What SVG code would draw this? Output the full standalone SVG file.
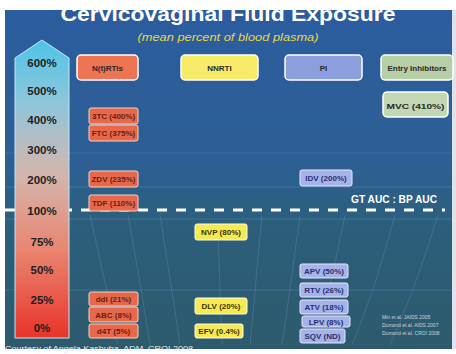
<svg xmlns="http://www.w3.org/2000/svg" width="456" height="354" viewBox="0 0 456 354">
<defs>
<linearGradient id="bg" x1="0" y1="0" x2="0" y2="1">
<stop offset="0" stop-color="#2b5c9f"/>
<stop offset="0.45" stop-color="#2d5f94"/>
<stop offset="0.62" stop-color="#2c5f7d"/>
<stop offset="1" stop-color="#2d5a6c"/>
</linearGradient>
<linearGradient id="arrowg" x1="0" y1="40" x2="0" y2="338" gradientUnits="userSpaceOnUse">
<stop offset="0" stop-color="#4fc3e6"/>
<stop offset="0.2" stop-color="#8cc6dc"/>
<stop offset="0.45" stop-color="#d4b6ae"/>
<stop offset="0.7" stop-color="#e98671"/>
<stop offset="1" stop-color="#e8342a"/>
</linearGradient>
<style>
.ax{font-family:"Liberation Sans",Arial,sans-serif;font-weight:bold;font-size:11.5px;fill:#1e1e1e;text-anchor:middle}
.lb{font-family:"Liberation Sans",Arial,sans-serif;font-weight:bold;font-size:8px;text-anchor:middle}
.hd{font-family:"Liberation Sans",Arial,sans-serif;font-weight:bold;font-size:8px;fill:#2a2a2a;text-anchor:middle}
.nr{fill:#e8684b;stroke:#f6d2c4;stroke-width:1}
.nrt{fill:#6a1d12}
.nn{fill:#f6ea52;stroke:#fffbe0;stroke-width:1}
.nnt{fill:#3a3410}
.pi{fill:#a6b3ea;stroke:#e4e8fb;stroke-width:1}
.pit{fill:#263070}
.hdr{stroke:#ffffff;stroke-width:1.5}
.faint{stroke:#4d86b6;stroke-width:1;opacity:0.5}
.curve{fill:none;stroke:#8fb8d8;stroke-width:0.8;opacity:0.25}
.cite{font-family:"Liberation Sans",Arial,sans-serif;font-size:5px;fill:#c9d3dc}
</style>
</defs>
<rect x="0" y="0" width="456" height="354" fill="#ffffff"/>
<rect x="5" y="10" width="451" height="339" fill="url(#bg)"/>
<rect x="452" y="10" width="4" height="339" fill="#dfe4ea"/>
<g id="decor">
<line class="faint" x1="5" y1="153" x2="452" y2="153"/>
<line class="faint" x1="5" y1="187" x2="452" y2="187"/>
<line class="faint" x1="5" y1="219" x2="452" y2="219"/>
<line class="faint" x1="5" y1="290" x2="452" y2="290"/>
<path class="curve" d="M90 215 Q105 280 118 345"/>
<path class="curve" d="M128 215 Q140 280 150 345"/>
<path class="curve" d="M160 215 Q172 290 180 345"/>
<path class="curve" d="M218 230 Q220 290 222 345"/>
<path class="curve" d="M262 215 Q256 280 250 345"/>
<path class="curve" d="M300 215 Q290 290 282 345"/>
<path class="curve" d="M345 215 Q330 290 315 345"/>
<path class="curve" d="M395 215 Q375 290 352 345"/>
<path class="curve" d="M438 215 Q415 290 390 345"/>
<line x1="5" y1="210" x2="445" y2="210" stroke="#ffffff" stroke-width="3" stroke-dasharray="10 9"/>
</g>
<g id="title">
<text x="228" y="21" font-family="Liberation Sans,Arial,sans-serif" font-weight="bold" font-size="20" fill="#ffffff" text-anchor="middle" textLength="335" lengthAdjust="spacingAndGlyphs">Cervicovaginal Fluid Exposure</text>
<text x="228" y="41" font-family="Liberation Sans,Arial,sans-serif" font-style="italic" font-size="11" fill="#e6d64e" text-anchor="middle" textLength="181" lengthAdjust="spacingAndGlyphs">(mean percent of blood plasma)</text>
</g>
<rect x="0" y="0" width="456" height="10" fill="#ffffff"/>
<g id="axis">
<polygon points="42,40 69,58 69,338 15,338 15,58" fill="url(#arrowg)" stroke="#bfe8f4" stroke-width="1"/>
<text class="ax" x="42" y="67">600%</text>
<text class="ax" x="42" y="95">500%</text>
<text class="ax" x="42" y="124">400%</text>
<text class="ax" x="42" y="154">300%</text>
<text class="ax" x="42" y="184">200%</text>
<text class="ax" x="42" y="215">100%</text>
<text class="ax" x="42" y="246">75%</text>
<text class="ax" x="42" y="274">50%</text>
<text class="ax" x="42" y="304">25%</text>
<text class="ax" x="42" y="332">0%</text>
</g>
<g id="hdr-nrti"><rect class="hdr" x="77" y="55" width="61" height="25" rx="4" fill="#ee7554"/><text class="hd" x="107.5" y="70.5">N(t)RTIs</text></g>
<g id="hdr-nnrti"><rect class="hdr" x="181" y="55" width="77" height="25" rx="4" fill="#f7eb68"/><text class="hd" x="219.5" y="70.5">NNRTI</text></g>
<g id="hdr-pi"><rect class="hdr" x="285" y="55" width="77" height="25" rx="4" fill="#8c9fdc"/><text class="hd" x="323.5" y="70.5">PI</text></g>
<g id="hdr-entry"><rect class="hdr" x="381" y="55" width="72" height="25" rx="4" fill="#b7cfa6"/><text class="hd" x="417" y="70.5" font-size="7.5">Entry Inhibitors</text></g>
<g id="mvc"><rect x="383" y="92" width="65" height="25" rx="4" fill="#c3d8b2" stroke="#ffffff" stroke-width="1.5"/><text class="hd" x="415.5" y="108.5" font-size="10.5" textLength="58" lengthAdjust="spacingAndGlyphs">MVC (410%)</text></g>
<g id="n-3tc"><rect class="nr" x="89" y="108" width="49" height="16" rx="2"/><text class="lb nrt" x="113.5" y="119">3TC (400%)</text></g>
<g id="n-ftc"><rect class="nr" x="89" y="125" width="49" height="16" rx="2"/><text class="lb nrt" x="113.5" y="136">FTC (375%)</text></g>
<g id="n-zdv"><rect class="nr" x="89" y="171" width="49" height="16" rx="2"/><text class="lb nrt" x="113.5" y="182">ZDV (235%)</text></g>
<g id="n-tdf"><rect class="nr" x="89" y="195" width="49" height="16" rx="2"/><text class="lb nrt" x="113.5" y="206">TDF (110%)</text></g>
<g id="n-ddi"><rect class="nr" x="89" y="292" width="49" height="14" rx="2"/><text class="lb nrt" x="113.5" y="302">ddI (21%)</text></g>
<g id="n-abc"><rect class="nr" x="89" y="307" width="49" height="15" rx="2"/><text class="lb nrt" x="113.5" y="317.5">ABC (8%)</text></g>
<g id="n-d4t"><rect class="nr" x="89" y="324" width="49" height="14" rx="2"/><text class="lb nrt" x="113.5" y="334">d4T (5%)</text></g>
<g id="nn-nvp"><rect class="nn" x="195" y="224" width="52" height="16" rx="2"/><text class="lb nnt" x="221" y="235">NVP (80%)</text></g>
<g id="nn-dlv"><rect class="nn" x="195" y="298" width="52" height="16" rx="2"/><text class="lb nnt" x="221" y="309">DLV (20%)</text></g>
<g id="nn-efv"><rect class="nn" x="195" y="324" width="48" height="14" rx="2"/><text class="lb nnt" x="219" y="334">EFV (0.4%)</text></g>
<g id="p-idv"><rect class="pi" x="300" y="170" width="52" height="16" rx="2"/><text class="lb pit" x="326" y="181">IDV (200%)</text></g>
<g id="p-apv"><rect class="pi" x="300" y="264" width="48" height="14" rx="2"/><text class="lb pit" x="324" y="274">APV (50%)</text></g>
<g id="p-rtv"><rect class="pi" x="300" y="283" width="48" height="14" rx="2"/><text class="lb pit" x="324" y="293">RTV (26%)</text></g>
<g id="p-atv"><rect class="pi" x="300" y="300" width="48" height="14" rx="2"/><text class="lb pit" x="324" y="310">ATV (18%)</text></g>
<g id="p-lpv"><rect class="pi" x="302" y="316" width="48" height="11" rx="2"/><text class="lb pit" x="326" y="324.5">LPV (8%)</text></g>
<g id="p-sqv"><rect class="pi" x="300" y="329" width="45" height="14" rx="2"/><text class="lb pit" x="322.5" y="339">SQV (ND)</text></g>
<g id="ratio"><text x="351" y="203" font-family="Liberation Sans,Arial,sans-serif" font-weight="bold" font-size="10" fill="#ffffff" textLength="86" lengthAdjust="spacingAndGlyphs">GT AUC : BP AUC</text></g>
<g id="refs">
<text class="cite" x="382" y="319">Min et al. JAIDS 2005</text>
<text class="cite" x="382" y="327">Dumond et al. AIDS 2007</text>
<text class="cite" x="382" y="335">Dumond et al. CROI 2008</text>
</g>
<g id="courtesy"><text x="5" y="351" font-family="Liberation Sans,Arial,sans-serif" font-size="8" fill="#e8ecef" textLength="188" lengthAdjust="spacingAndGlyphs">Courtesy of Angela Kashuba, ADM, CROI 2008</text></g>
</svg>
